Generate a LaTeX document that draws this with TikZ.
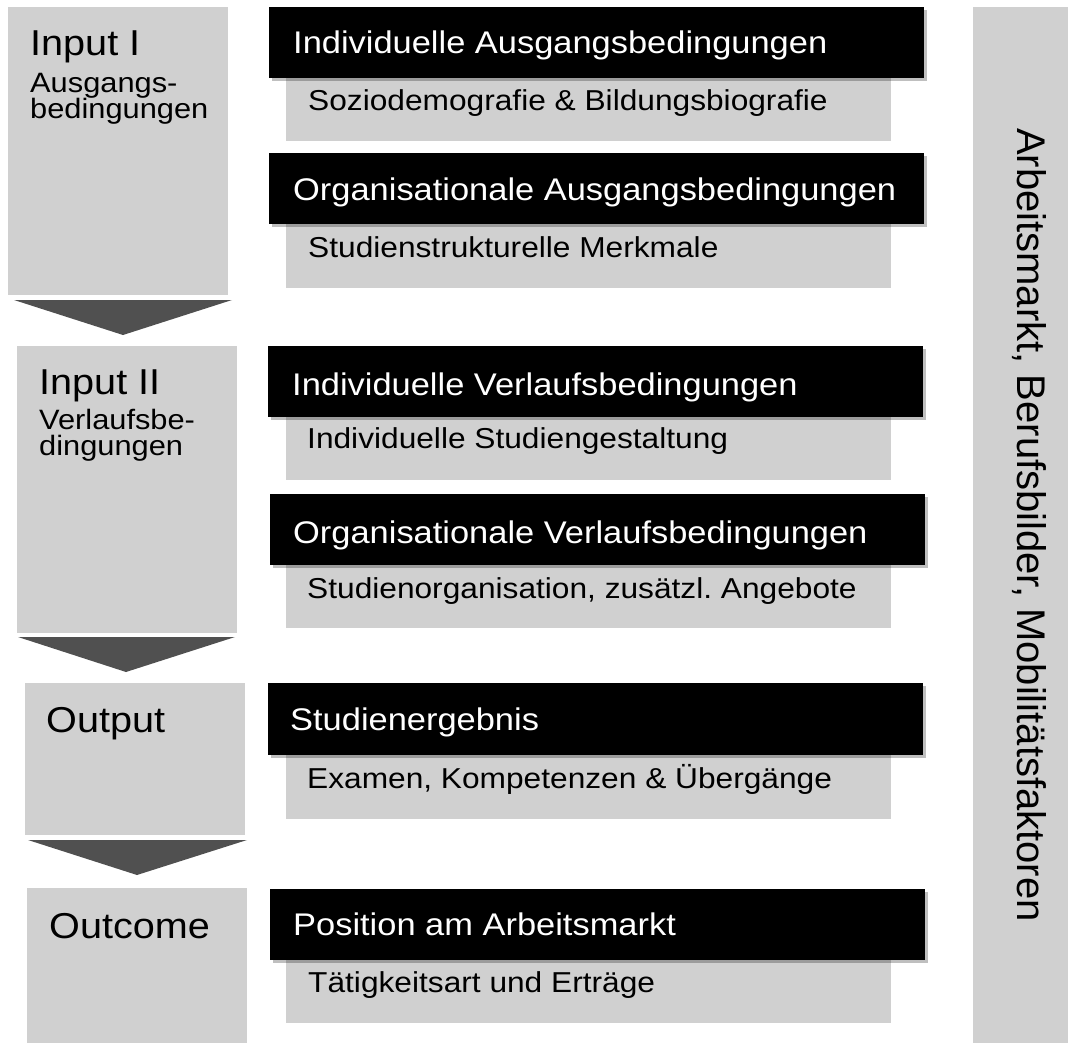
\documentclass[tikz,border=0pt]{standalone}
\usepackage{fontspec}
\setmainfont{Liberation Sans}[FakeStretch=1.1]
\newfontfamily\barfont{Liberation Sans}
\usetikzlibrary{shadows}
\definecolor{boxgray}{HTML}{D0D0D0}
\definecolor{arrowgray}{HTML}{505050}
\frenchspacing

\begin{document}
\begin{tikzpicture}[x=1pt, y=-1pt,
        stage/.style={fill=boxgray},
        headbox/.style={fill=black, drop shadow={shadow xshift=3pt, shadow yshift=-3pt, fill=black, opacity=0.25}},
        chevron/.style={fill=arrowgray},
        title/.style={anchor=base west, inner sep=0, font=\fontsize{36}{40}\selectfont},
        subtitle/.style={anchor=base west, inner sep=0, font=\fontsize{28}{30}\selectfont},
        headtext/.style={anchor=base west, inner sep=0, text=white, font=\fontsize{31.3}{36}\selectfont},
        subtext/.style={anchor=base west, inner sep=0, font=\fontsize{28.8}{32}\selectfont}]

        \useasboundingbox (0,0) rectangle (1068,1043);

        % left column: stages
        \fill[stage] (8,7) rectangle (228,295);
        \fill[stage] (17,346) rectangle (237,633);
        \fill[stage] (25,683) rectangle (245,835);
        \fill[stage] (27,888) rectangle (247,1043);

        \fill[chevron] (14,300) -- (232,300) -- (123,335) -- cycle;
        \fill[chevron] (18,637) -- (235,637) -- (126,672) -- cycle;
        \fill[chevron] (28,840) -- (247,840) -- (137,875) -- cycle;

        \node[title] (inputI) at (30,56) {Input I};
        \node[subtitle] (inputIa) at (30,93) {Ausgangs-};
        \node[subtitle] (inputIb) at (30,119) {bedingungen};
        \node[title] (inputII) at (39,394) {Input II};
        \node[subtitle] (inputIIa) at (39,429) {Verlaufsbe-};
        \node[subtitle] (inputIIb) at (39,455) {dingungen};
        \node[title] (output) at (46,732) {Output};
        \node[title] (outcome) at (49,938) {Outcome};

        % middle column: sub boxes first, black headers on top
        \fill[stage] (286,78) rectangle (891,141);
        \fill[stage] (286,224) rectangle (891,288);
        \fill[stage] (286,417) rectangle (891,480);
        \fill[stage] (286,565) rectangle (891,628);
        \fill[stage] (286,755) rectangle (891,819);
        \fill[stage] (286,960) rectangle (891,1023);

        \path[headbox] (269,7) rectangle (924,78);
        \path[headbox] (269,153) rectangle (924,224);
        \path[headbox] (268,346) rectangle (923,417);
        \path[headbox] (270,494) rectangle (925,565);
        \path[headbox] (268,683) rectangle (923,755);
        \path[headbox] (270,889) rectangle (925,960);

        \node[headtext] (indAus) at (293,54) {Individuelle Ausgangsbedingungen};
        \node[subtext] (indAusSub) at (308,111) {Soziodemografie \& Bildungsbiografie};
        \node[headtext] (orgAus) at (293,201) {Organisationale Ausgangsbedingungen};
        \node[subtext] (orgAusSub) at (308,257) {Studienstrukturelle Merkmale};
        \node[headtext] (indVer) at (292,395) {Individuelle Verlaufsbedingungen};
        \node[subtext] (indVerSub) at (307,448) {Individuelle Studiengestaltung};
        \node[headtext] (orgVer) at (293,543) {Organisationale Verlaufsbedingungen};
        \node[subtext] (orgVerSub) at (307,598) {Studienorganisation, zusätzl. Angebote};
        \node[headtext] (studErg) at (290,730) {Studienergebnis};
        \node[subtext] (studErgSub) at (307,788) {Examen, Kompetenzen \& Übergänge};
        \node[headtext] (posArb) at (293,935) {Position am Arbeitsmarkt};
        \node[subtext] (posArbSub) at (308,992) {Tätigkeitsart und Erträge};

        % right column
        \fill[stage] (973,7) rectangle (1068,1043);
        \node[anchor=base, inner sep=0, rotate=-90, font=\barfont\fontsize{40}{44}\selectfont] (markt) at (1017,525) {Arbeitsmarkt, Berufsbilder, Mobilitätsfaktoren};

\end{tikzpicture}
\end{document}
